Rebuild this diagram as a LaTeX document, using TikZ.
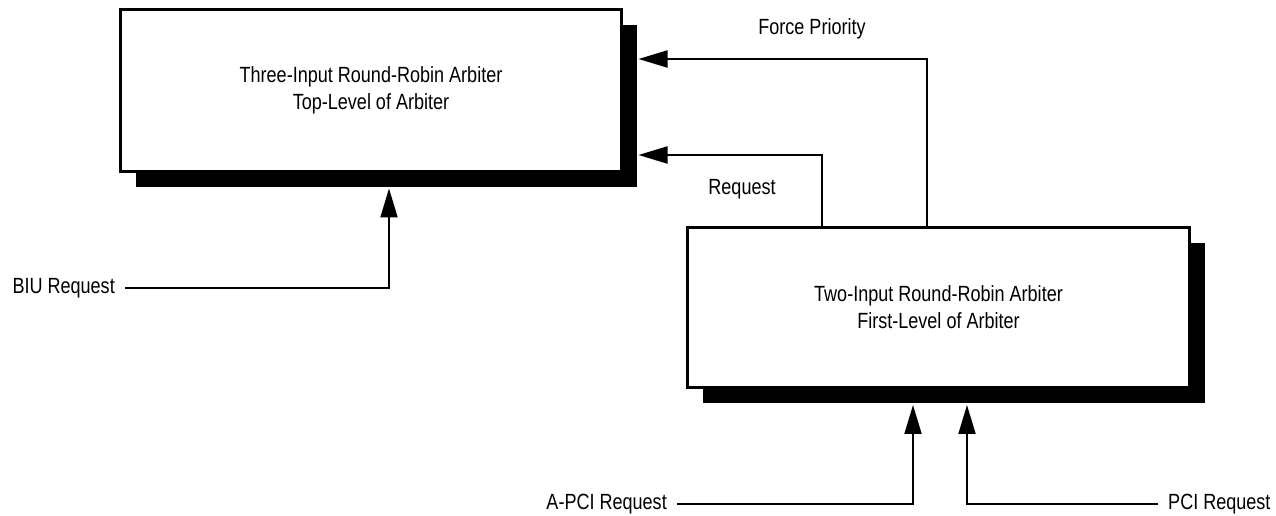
\documentclass[tikz,border=0pt]{standalone}
\usepackage{fontspec}
\setmainfont[FakeStretch=0.82]{Liberation Sans}
\usepackage{tikz}
\usetikzlibrary{calc}
\usetikzlibrary{shadows}
\usetikzlibrary{arrows.meta}

\tikzset{
  arbbox/.style={draw, line width=3pt, fill=white, align=center,
    drop shadow={shadow xshift=15.5pt, shadow yshift=-15.5pt, fill=black, opacity=1}},
  sig/.style={line width=2pt, -{Triangle[length=29pt, width=17pt]}},
  port/.style={inner xsep=10pt, inner ysep=2pt},
}

\begin{document}
\begin{tikzpicture}[x=1pt, y=1pt, font=\fontsize{22}{27}\selectfont]
\useasboundingbox (0,0) rectangle (1276,516);

% the two arbiters
\node[arbbox, minimum width=501pt, minimum height=162pt] (top) at (371,425.5)
  {Three-Input Round-Robin Arbiter\\Top-Level of Arbiter};
\node[arbbox, minimum width=502pt, minimum height=160pt] (low) at (938.5,208.5)
  {Two-Input Round-Robin Arbiter\\First-Level of Arbiter};

% request inputs
\node[port, anchor=east] (biu) at (125,228) {BIU Request};
\node[port, anchor=east] (apci) at (677,12) {A-PCI Request};
\node[port, anchor=west] (pci) at (1158,12) {PCI Request};

\draw[sig] (biu.east) -| ([xshift=18pt, yshift=-15.5pt]top.south);
\draw[sig] (apci.east) -| ([xshift=-25.5pt, yshift=-16pt]low.south);
\draw[sig] (pci.west) -| ([xshift=28.5pt, yshift=-16pt]low.south);

% first level to top level
\node (reqlbl) at (742,327) {Request};
\node (fplbl) at (812,487) {Force Priority};
\draw[sig] ([xshift=-116.5pt]low.north) |- ([xshift=15.5pt, yshift=-64.5pt]top.east);
\draw[sig] ([xshift=-11.5pt]low.north) |- ([xshift=15.5pt, yshift=31.5pt]top.east);
\end{tikzpicture}
\end{document}
